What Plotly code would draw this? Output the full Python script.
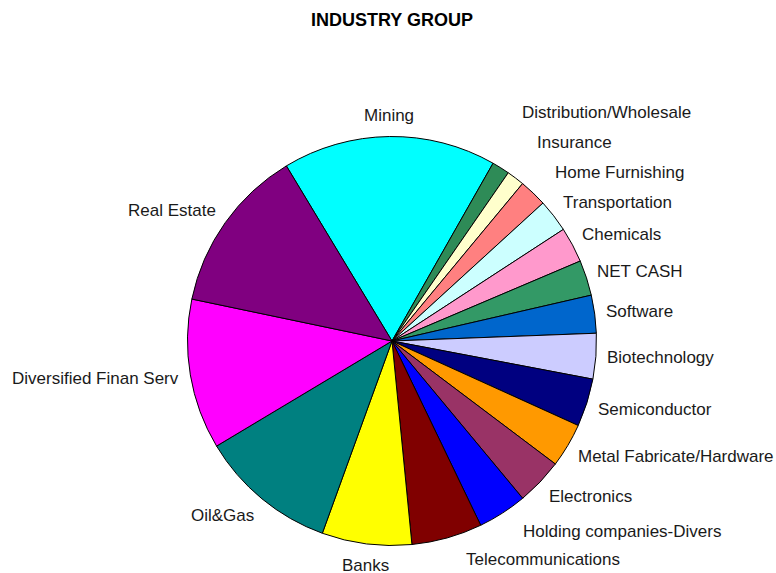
import numpy as np
import plotly.graph_objects as go

# sectores en el orden del dibujo (sentido horario, empezando por Mining)
grupos = ["Mining", "Distribution/Wholesale", "Insurance", "Home Furnishing",
          "Transportation", "Chemicals", "NET CASH", "Software", "Biotechnology",
          "Semiconductor", "Metal Fabricate/Hardware", "Electronics",
          "Holding companies-Divers", "Telecommunications", "Banks", "Oil&Gas",
          "Diversified Finan Serv", "Real Estate"]
pesos = [16.9, 1.4, 1.4, 2.2, 2.6, 2.8, 2.8, 3.0, 3.6, 3.8, 3.5, 3.7,
         3.9, 5.6, 7.1, 10.9, 11.9, 13.1]
colores = ["#00FFFF", "#2E8B57", "#FFFFCC", "#FF8080", "#CCFFFF", "#FF99CC",
           "#339966", "#0066CC", "#CCCCFF", "#000080", "#FF9900", "#993366",
           "#0000FF", "#800000", "#FFFF00", "#008080", "#FF00FF", "#800080"]

W, H = 776, 573
CX, CY, R = 392, 341, 204.5
ROT = -31.1          # inicio del primer sector (grados, horario desde las 12)
FUENTE = "Liberation Sans, Arial, sans-serif"

fig = go.Figure(go.Pie(
    labels=grupos, values=pesos, sort=False, direction="clockwise",
    rotation=ROT, textinfo="none", hoverinfo="label+percent",
    marker=dict(colors=colores, line=dict(color="black", width=1)),
    domain=dict(x=[(CX - R) / W, (CX + R) / W],
                y=[1 - (CY + R) / H, 1 - (CY - R) / H]),
    showlegend=False,
))

# posiciones de etiquetas a partir del angulo medio de cada sector
v = np.array(pesos, dtype=float)
acum = np.cumsum(v) - v / 2
ang = np.radians(ROT + acum / v.sum() * 360)
GAP_X, GAP_Y, MEDIA_H, PASO = 9, 14, 7.5, 30
s, c = np.sin(ang), np.cos(ang)
px = CX + (R + GAP_X) * s
py = CY - (R + GAP_Y + MEDIA_H) * c
# en el lado derecho, cerca de la vertical, Excel las separa un poco mas
px[(s > 0.15) & (np.abs(c) > 0.7)] += 14

# evitar solapes en el lado derecho (como hace Excel)
der = [i for i in range(len(grupos)) if s[i] > 0.15]
arriba = [i for i in der if c[i] > 0]
abajo = [i for i in der if c[i] <= 0]
for a, b in zip(arriba[::-1][1:], arriba[::-1][:-1]):
    py[a] = min(py[a], py[b] - PASO)
for a, b in zip(abajo[:-1], abajo[1:]):
    py[b] = max(py[b], py[a] + PASO - 2)

anots = []
for i, g in enumerate(grupos):
    xa = "left" if s[i] > 0.15 else ("right" if s[i] < -0.15 else "center")
    anots.append(dict(x=px[i] / W, y=1 - py[i] / H, xref="paper", yref="paper",
                      text=g, showarrow=False, xanchor=xa, yanchor="middle",
                      font=dict(family=FUENTE, size=17, color="#1a1a1a")))

fig.update_layout(
    width=W, height=H,
    margin=dict(l=0, r=0, t=0, b=0),
    paper_bgcolor="white", plot_bgcolor="white",
    title=dict(text="<b>INDUSTRY GROUP</b>", x=392 / W, xanchor="center",
               y=1 - 20 / H, yanchor="middle",
               font=dict(family=FUENTE, size=18, color="black")),
    annotations=anots,
)

# quitar el margen del body para que la figura empiece en (0, 0)
fig.write_html("out.html", config={"displayModeBar": False},
               post_script="document.body.style.margin='0';")
